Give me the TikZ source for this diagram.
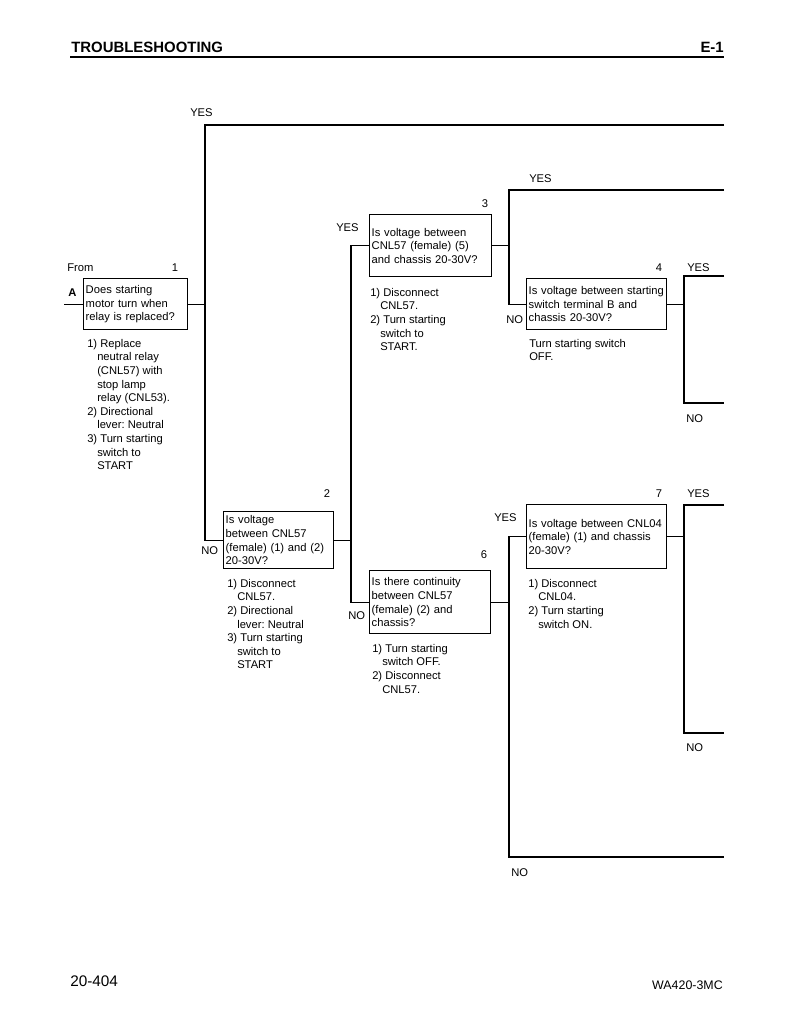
\documentclass[tikz,border=0pt]{standalone}
\usepackage{fontspec}
\setmainfont{Liberation Sans}
\newcommand\boxfont{\fontsize{8.4}{10.2}\selectfont\frenchspacing\hyphenpenalty=10000}
\newcommand\ind{\hspace*{7.5pt}}
\tikzset{
	wire/.style={line width=1.1pt},
	qbox/.style={draw, line width=1.1pt, anchor=north west, align=left, inner xsep=1.5pt, inner ysep=0pt, font=\boxfont},
	note/.style={anchor=north west, align=left, inner sep=0pt, font=\boxfont},
	lbl/.style={anchor=west, inner sep=0pt, font=\boxfont},
	num/.style={inner sep=0pt, font=\boxfont},
}

\begin{document}
\begin{tikzpicture}[x=0.75pt, y=-0.75pt]
			%%%%% START %%%%%
			\fill[white] (0,0) rectangle (794,1028);
			\useasboundingbox (0,0) rectangle (794,1028);
			
			\node[anchor=west, inner sep=0pt, font=\bfseries\fontsize{11.2}{13}\selectfont] (title) at (71,47.5) {TROUBLESHOOTING};
			\node[anchor=east, inner sep=0pt, font=\bfseries\fontsize{11.2}{13}\selectfont] (sect) at (724,47.5) {E-1};
			\draw[line width=2.2pt] (70,57) -- (724,57);
			
			\node[qbox, text width=75pt, minimum height=38.25pt] (q1) at (83,278) {Does starting\\motor turn when\\relay is replaced?};
			\node[qbox, text width=79.5pt, minimum height=42.75pt] (q2) at (223,511) {Is voltage\\between CNL57\\(female) (1) and (2)\\20-30V?};
			\node[qbox, text width=88.5pt, minimum height=46.5pt] (q3) at (369,214) {Is voltage between\\CNL57 (female) (5)\\and chassis 20-30V?};
			\node[qbox, text width=102pt, minimum height=38.25pt] (q4) at (526,278) {Is voltage between starting\\switch terminal B and\\chassis 20-30V?};
			\node[qbox, text width=87.75pt, minimum height=47.25pt] (q6) at (369,570) {Is there continuity\\between CNL57\\(female) (2) and\\chassis?};
			\node[qbox, text width=102pt, minimum height=48pt] (q7) at (526,504) {Is voltage between CNL04\\(female) (1) and chassis\\20-30V?};
			
			\node[num] (n1) at (175,268) {1};
			\node[num] (n2) at (327,494) {2};
			\node[num] (n3) at (485,204) {3};
			\node[num] (n4) at (659,268) {4};
			\node[num] (n6) at (484,555) {6};
			\node[num] (n7) at (659,494) {7};
			
			\node[note] (c1) at (87,339) {1) Replace\\\ind neutral relay\\\ind (CNL57) with\\\ind stop lamp\\\ind relay (CNL53).\\2) Directional\\\ind lever: Neutral\\3) Turn starting\\\ind switch to\\\ind START};
			\node[note] (c2) at (227,579) {1) Disconnect\\\ind CNL57.\\2) Directional\\\ind lever: Neutral\\3) Turn starting\\\ind switch to\\\ind START};
			\node[note] (c3) at (370,288) {1) Disconnect\\\ind CNL57.\\2) Turn starting\\\ind switch to\\\ind START.};
			\node[note] (c4) at (529,339) {Turn starting switch\\OFF.};
			\node[note] (c6) at (372,644) {1) Turn starting\\\ind switch OFF.\\2) Disconnect\\\ind CNL57.};
			\node[note] (c7) at (528,579) {1) Disconnect\\\ind CNL04.\\2) Turn starting\\\ind switch ON.};
			
			\node[lbl] (from) at (67,268) {From};
			\node[lbl, font=\boxfont\bfseries] (A) at (68,293) {A};
			\node[lbl] (yes1) at (190,113) {YES};
			\node[lbl] (no1) at (201,551) {NO};
			\node[lbl] (yes2) at (336,228) {YES};
			\node[lbl] (no2) at (348,616) {NO};
			\node[lbl] (yes3) at (529,179) {YES};
			\node[lbl] (no3) at (506,320) {NO};
			\node[lbl] (yes4) at (687,268) {YES};
			\node[lbl] (no4) at (686,419) {NO};
			\node[lbl] (yes6) at (494,518) {YES};
			\node[lbl] (no6) at (511,873) {NO};
			\node[lbl] (yes7) at (687,494) {YES};
			\node[lbl] (no7) at (686,748) {NO};
			
			\coordinate (inA) at (64,0);
			\coordinate (edge) at (724,0);
			\coordinate (b1) at (205,125);
			\coordinate (b2) at (351,0);
			\coordinate (b3) at (509,190);
			\coordinate (b4y) at (684,276);
			\coordinate (b4n) at (684,403);
			\coordinate (b6) at (509,857);
			\coordinate (b7y) at (684,505);
			\coordinate (b7n) at (684,733);
			
			\draw[wire] (inA |- q1.west) -- (q1.west);
			\draw[wire] (q1.east) -- (q1.east -| b1);
			\draw[wire] (b1 -| edge) -- (b1) |- (q2.west);
			\draw[wire] (q2.east) -- (q2.east -| b2);
			\draw[wire] (q3.west) -| (b2 |- q6.west) -- (q6.west);
			\draw[wire] (q3.east) -- (q3.east -| b3);
			\draw[wire] (b3 -| edge) -- (b3) |- (q4.west);
			\draw[wire] (q4.east) -- (q4.east -| b4y);
			\draw[wire] (b4y -| edge) -- (b4y) -- (b4n) -- (b4n -| edge);
			\draw[wire] (q6.east) -- (q6.east -| b6);
			\draw[wire] (q7.west) -| (b6) -- (b6 -| edge);
			\draw[wire] (q7.east) -- (q7.east -| b7y);
			\draw[wire] (b7y -| edge) -- (b7y) -- (b7n) -- (b7n -| edge);
			
			\node[anchor=west, inner sep=0pt, font=\fontsize{11.5}{13}\selectfont] (page) at (70,981.5) {20-404};
			\node[anchor=east, inner sep=0pt, font=\fontsize{9.3}{11}\selectfont] (model) at (723,985) {WA420-3MC};
			%%%%% END %%%%%
\end{tikzpicture}
\end{document}
